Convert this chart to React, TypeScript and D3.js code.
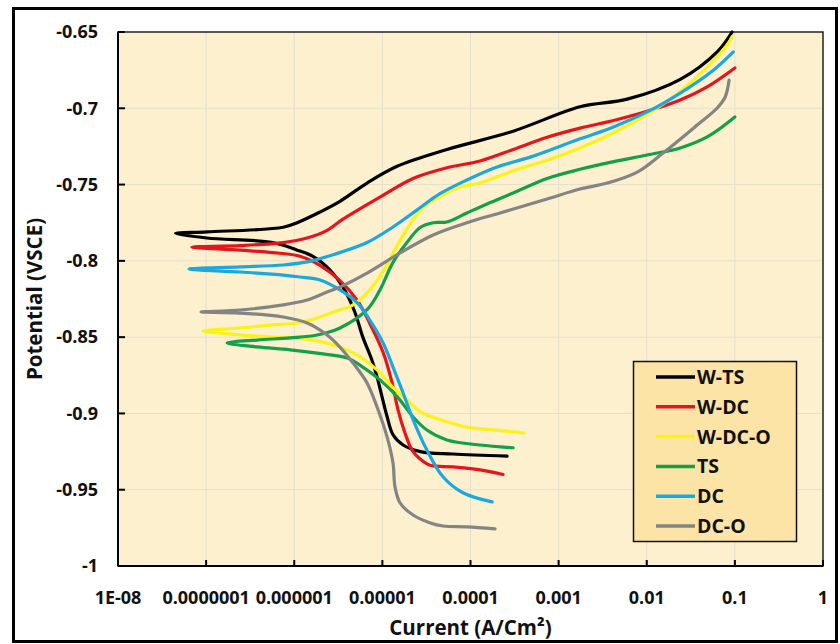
import React from 'react';
import * as d3 from 'd3';

// [current (A/cm2), potential (V vs SCE)], cathodic end -> Ecorr tip -> anodic end
const wTS: [number, number][] = [
    [2.6e-4, -0.928], [6.3e-5, -0.9266], [2.7e-5, -0.925], [1.72e-5, -0.9207], [1.32e-5, -0.914],
    [1.13e-5, -0.902], [9.9e-6, -0.889], [8.7e-6, -0.876], [7.6e-6, -0.865], [6.0e-6, -0.85],
    [4.9e-6, -0.834], [3.8e-6, -0.82], [2.55e-6, -0.806], [1.63e-6, -0.797], [1.08e-6, -0.793],
    [5.7e-7, -0.788], [1.02e-7, -0.785], [4.5e-8, -0.782], [1.02e-7, -0.781], [7.5e-7, -0.778],
    [1.08e-6, -0.775], [1.96e-6, -0.768], [3.3e-6, -0.761], [6.7e-6, -0.749], [1.47e-5, -0.738],
    [5.4e-5, -0.727], [3.05e-4, -0.715], [1.75e-3, -0.699], [6.0e-3, -0.694], [2.4e-2, -0.681],
    [6.3e-2, -0.663], [9.3e-2, -0.65]
];

const wDC: [number, number][] = [
    [2.34e-4, -0.94], [1.28e-4, -0.937], [6.3e-5, -0.935], [3.5e-5, -0.934], [2.7e-5, -0.93],
    [2.17e-5, -0.924], [1.81e-5, -0.913], [1.51e-5, -0.898], [1.29e-5, -0.88], [1.02e-5, -0.86],
    [7.2e-6, -0.841], [5.2e-6, -0.826], [3.3e-6, -0.813], [1.96e-6, -0.803], [1.16e-6, -0.797],
    [6.9e-7, -0.795], [2.43e-7, -0.793], [6.9e-8, -0.791], [2.43e-7, -0.79], [7.5e-7, -0.788],
    [1.4e-6, -0.785], [2.36e-6, -0.78], [3.5e-6, -0.773], [1.02e-5, -0.757],
    [2.23e-5, -0.746], [5.4e-5, -0.739], [1.28e-4, -0.7345], [3.05e-4, -0.727], [7.4e-4, -0.719],
    [1.75e-3, -0.713], [4.2e-3, -0.708], [1.01e-2, -0.702], [2.4e-2, -0.6946], [4.85e-2, -0.686],
    [0.1, -0.6736]
];

const wDCO: [number, number][] = [
    [4.06e-4, -0.9128], [2.0e-4, -0.911], [9.1e-5, -0.909], [4.5e-5, -0.904], [2.7e-5, -0.899],
    [1.9e-5, -0.891], [1.32e-5, -0.883], [8.7e-6, -0.8715], [5.6e-6, -0.863], [3.3e-6, -0.8565],
    [1.63e-6, -0.852], [9.7e-7, -0.8505], [5.7e-7, -0.85], [2.43e-7, -0.8485], [9.2e-8, -0.846],
    [2.43e-7, -0.844], [5.7e-7, -0.842], [1.08e-6, -0.8407], [1.82e-6, -0.8374], [3.3e-6, -0.832],
    [4.3e-6, -0.83], [6.7e-6, -0.821], [1.02e-5, -0.807], [1.47e-5, -0.79], [2.06e-5, -0.776],
    [2.9e-5, -0.765], [4.5e-5, -0.758], [7.6e-5, -0.7516], [1.28e-4, -0.749], [3.05e-4, -0.741],
    [7.4e-4, -0.734], [1.75e-3, -0.726], [4.2e-3, -0.716], [1.01e-2, -0.704], [2.4e-2, -0.689],
    [4.85e-2, -0.673], [8.2e-2, -0.6585], [9.3e-2, -0.653]
];

const tS: [number, number][] = [
    [3.05e-4, -0.9225], [1.28e-4, -0.9207], [5.4e-5, -0.9174], [3.2e-5, -0.9109], [2.23e-5, -0.9023],
    [1.47e-5, -0.889], [9.4e-6, -0.878], [6.0e-6, -0.8696], [4.0e-6, -0.8637], [2.12e-6, -0.861],
    [9.0e-7, -0.8583], [3.8e-7, -0.8564], [1.73e-7, -0.8538], [3.8e-7, -0.8519],
    [9.0e-7, -0.8505], [1.82e-6, -0.8486], [3.3e-6, -0.844], [6.7e-6, -0.832], [9.4e-6, -0.819],
    [1.32e-5, -0.801], [1.9e-5, -0.788], [2.7e-5, -0.778], [3.77e-5, -0.775], [5.4e-5, -0.7745],
    [9.1e-5, -0.7686], [1.54e-4, -0.7627], [3.05e-4, -0.7555], [7.4e-4, -0.746], [1.75e-3, -0.74],
    [4.2e-3, -0.735], [1.01e-2, -0.7306], [2.4e-2, -0.726], [4.85e-2, -0.7188], [0.1, -0.7057]
];

const dC: [number, number][] = [
    [1.76e-4, -0.958], [8.2e-5, -0.952], [4.9e-5, -0.9417], [3.2e-5, -0.924], [2.23e-5, -0.904],
    [1.72e-5, -0.8866], [1.32e-5, -0.8696], [1.02e-5, -0.8538], [7.2e-6, -0.8388], [5.2e-6, -0.8276],
    [3.3e-6, -0.819], [1.96e-6, -0.8125], [1.16e-6, -0.8106], [7.5e-7, -0.8093], [2.43e-7, -0.8073],
    [6.4e-8, -0.8053], [2.43e-7, -0.804], [7.5e-7, -0.8027], [1.4e-6, -0.8007], [2.75e-6, -0.796],
    [6.7e-6, -0.788], [1.32e-5, -0.7778], [2.48e-5, -0.7666], [4.5e-5, -0.756], [9.1e-5, -0.747],
    [2.0e-4, -0.7385], [4.75e-4, -0.732], [1.75e-3, -0.72], [4.2e-3, -0.7122], [1.01e-2, -0.7024],
    [2.4e-2, -0.69], [5.7e-2, -0.675], [9.6e-2, -0.663]
];

const dCO: [number, number][] = [
    [1.9e-4, -0.9757], [9.1e-5, -0.9744], [4.9e-5, -0.9738], [3.5e-5, -0.9718], [2.23e-5, -0.9666],
    [1.59e-5, -0.9587], [1.39e-5, -0.948], [1.32e-5, -0.9325], [1.13e-5, -0.9154], [8.7e-6, -0.8958],
    [6.7e-6, -0.88], [4.65e-6, -0.867], [3.3e-6, -0.8565], [2.36e-6, -0.8486], [1.4e-6, -0.8407],
    [7.5e-7, -0.8368], [2.43e-7, -0.8342], [8.75e-8, -0.8335], [2.43e-7, -0.8322], [7.5e-7, -0.8289],
    [1.4e-6, -0.8257], [2.36e-6, -0.8204], [3.3e-6, -0.8171], [6.7e-6, -0.808], [1.59e-5, -0.7948],
    [3.77e-5, -0.783], [9.1e-5, -0.775], [2.17e-4, -0.7686], [7.4e-4, -0.7594], [1.75e-3, -0.7529],
    [3.56e-3, -0.749], [7.8e-3, -0.7418], [1.53e-2, -0.7293], [3.73e-2, -0.711], [6.3e-2, -0.6998],
    [7.76e-2, -0.6926], [8.6e-2, -0.6815]
];

const seriesNames = ['W-TS', 'W-DC', 'W-DC-O', 'TS', 'DC', 'DC-O'];
const seriesColors = ['#000000', '#e8141c', '#fbf21a', '#14a04a', '#1ba7df', '#848484'];
const seriesData = [wTS, wDC, wDCO, tS, dC, dCO];

const xTicks = [1e-8, 1e-7, 1e-6, 1e-5, 1e-4, 1e-3, 1e-2, 1e-1, 1];
const xTickLabels = ['1E-08', '0.0000001', '0.000001', '0.00001', '0.0001', '0.001', '0.01', '0.1', '1'];
const yTicks = [-1, -0.95, -0.9, -0.85, -0.8, -0.75, -0.7, -0.65];
const yTickLabels = ['-1', '-0.95', '-0.9', '-0.85', '-0.8', '-0.75', '-0.7', '-0.65'];

const W = 840;
const H = 644;
const left = 118;
const right = 823;
const top = 32;
const bottom = 566;

export default function App() {
    const x = d3.scaleLog().domain([1e-8, 1]).range([left, right]);
    const y = d3.scaleLinear().domain([-1, -0.65]).range([bottom, top]);

    const line = d3
        .line<[number, number]>()
        .x((d) => x(d[0]))
        .y((d) => y(d[1]))
        .curve(d3.curveCatmullRom.alpha(0.5));

    const font = '"Open Sans", "DejaVu Sans", sans-serif';

    return (
        <svg
            width={W}
            height={H}
            style={{ position: 'absolute', left: 0, top: 0, background: '#fff' }}
            fontFamily={font}
        >
            <rect x={13.5} y={8.5} width={823} height={633} fill="#fff" stroke="#000" strokeWidth={3} />

            {/* plot area */}
            <rect x={left} y={top} width={right - left} height={bottom - top} fill="#fdf0cf" />

            {/* grid */}
            {xTicks.slice(1, -1).map((t) => (
                <line key={'gx' + t} x1={x(t)} x2={x(t)} y1={top} y2={bottom} stroke="#e5dfcc" strokeWidth={1} />
            ))}
            {yTicks.slice(1, -1).map((t) => (
                <line key={'gy' + t} x1={left} x2={right} y1={y(t)} y2={y(t)} stroke="#e5dfcc" strokeWidth={1} />
            ))}

            <rect x={left} y={top} width={right - left} height={bottom - top} fill="none" stroke="#222" strokeWidth={1.5} />

            {/* curves */}
            {seriesData.map((d, i) => (
                <path
                    key={seriesNames[i]}
                    d={line(d) || ''}
                    fill="none"
                    stroke={seriesColors[i]}
                    strokeWidth={3.2}
                    strokeLinejoin="round"
                    strokeLinecap="round"
                />
            ))}

            {/* axes */}
            <line x1={left} x2={left} y1={top} y2={bottom} stroke="#000" strokeWidth={2} />
            <line x1={left} x2={right} y1={bottom} y2={bottom} stroke="#000" strokeWidth={2} />
            {xTicks.map((t, i) => (
                <g key={'xt' + t}>
                    <line x1={x(t)} x2={x(t)} y1={bottom} y2={bottom - 6} stroke="#000" strokeWidth={2} />
                    <text x={x(t)} y={604} textAnchor="middle" fontSize={18} fontWeight={700} fill="#111">
                        {xTickLabels[i]}
                    </text>
                </g>
            ))}
            {yTicks.map((t, i) => (
                <g key={'yt' + t}>
                    <line x1={left} x2={left + 7} y1={y(t)} y2={y(t)} stroke="#000" strokeWidth={2} />
                    <text x={98} y={y(t)} dy="0.35em" textAnchor="end" fontSize={18} fontWeight={700} fill="#111">
                        {yTickLabels[i]}
                    </text>
                </g>
            ))}

            {/* axis titles */}
            <text x={(left + right) / 2} y={635} textAnchor="middle" fontSize={20.5} fontWeight={700} fill="#111">
                Current (A/Cm²)
            </text>
            <text
                transform={`translate(42, ${(top + bottom) / 2}) rotate(-90)`}
                textAnchor="middle"
                fontSize={20.5}
                fontWeight={700}
                fill="#111"
            >
                Potential (VSCE)
            </text>

            {/* legend */}
            <rect x={633.5} y={361.5} width={163} height={180} fill="#fbe4a6" stroke="#111" strokeWidth={1.5} />
            {seriesNames.map((name, i) => {
                const ly = 377 + i * 29.8;
                return (
                    <g key={'lg' + name}>
                        <line x1={656} x2={695} y1={ly} y2={ly} stroke={seriesColors[i]} strokeWidth={3.5} />
                        <text x={697} y={ly} dy="0.36em" fontSize={19.5} fontWeight={700} fill="#111">
                            {name}
                        </text>
                    </g>
                );
            })}
        </svg>
    );
}
